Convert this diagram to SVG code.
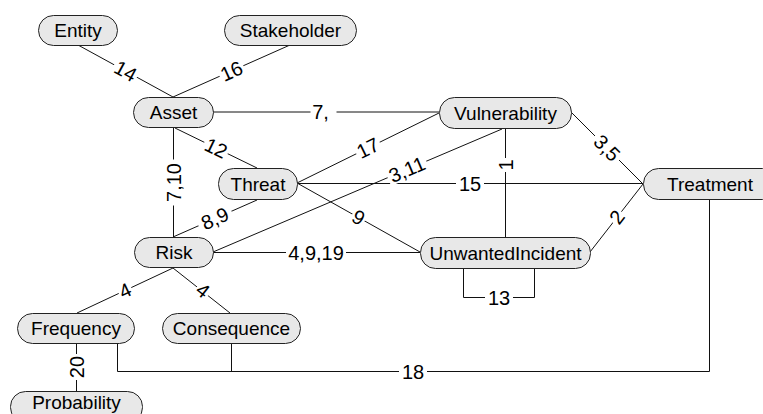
<svg xmlns="http://www.w3.org/2000/svg" width="763" height="414" viewBox="0 0 763 414">
<style>
.n rect{fill:#e8e8e8;stroke:#222;stroke-width:1}
.n text{font-family:"Liberation Sans",Arial,sans-serif;font-size:19px;fill:#000;text-anchor:middle}
.c line,.c polyline{stroke:#111;stroke-width:1;fill:none}
.l rect{fill:#fff;stroke:none}
.l text{font-family:"Liberation Sans",Arial,sans-serif;font-size:20px;fill:#000;text-anchor:middle}
</style>
<rect width="763" height="414" fill="#fff"/>
<g class="c" id="connectors">
<line x1="78" y1="45" x2="173" y2="97"/>
<line x1="290" y1="45" x2="173" y2="97"/>
<line x1="213" y1="112" x2="439" y2="112"/>
<line x1="571" y1="112" x2="643" y2="184"/>
<line x1="505.5" y1="129" x2="505.5" y2="237"/>
<line x1="502" y1="129" x2="213" y2="252"/>
<line x1="297" y1="183" x2="439" y2="113"/>
<line x1="297" y1="183.5" x2="643" y2="183.5"/>
<line x1="175" y1="128" x2="257" y2="168"/>
<line x1="173.5" y1="128" x2="173.5" y2="237"/>
<line x1="257" y1="200" x2="173" y2="237"/>
<line x1="297" y1="183" x2="420" y2="252"/>
<line x1="213" y1="252.5" x2="420" y2="252.5"/>
<polyline points="463.5,269 463.5,297.5 534.5,297.5 534.5,269"/>
<line x1="590" y1="252" x2="643" y2="184"/>
<line x1="173" y1="268" x2="77" y2="313"/>
<line x1="173" y1="268" x2="230" y2="313"/>
<line x1="76.5" y1="343" x2="76.5" y2="391"/>
<polyline points="117.5,343 117.5,371.5 709.5,371.5 709.5,199"/>
<line x1="231.5" y1="343" x2="231.5" y2="371.5"/>
</g>
<g class="l" id="labels">
<g transform="translate(125.5,71) rotate(28.7)"><rect x="-13" y="-9" width="26" height="18"/><text y="7">14</text></g>
<g transform="translate(231.5,71) rotate(-24)"><rect x="-13" y="-9" width="26" height="18"/><text y="7">16</text></g>
<g transform="translate(323.5,112)"><rect x="-13" y="-9" width="26" height="18"/><text x="-3" y="7">7,</text></g>
<g transform="translate(607,148) rotate(45)"><rect x="-17" y="-9" width="34" height="18"/><text y="7">3,5</text></g>
<g transform="translate(505.5,165) rotate(-90)"><rect x="-7" y="-9" width="14" height="18"/><text y="7">1</text></g>
<g transform="translate(407,169.5) rotate(-23)"><rect x="-21" y="-9" width="42" height="18"/><text y="7">3,11</text></g>
<g transform="translate(368,148) rotate(-26.2)"><rect x="-13" y="-9" width="26" height="18"/><text y="7">17</text></g>
<g transform="translate(470,183.5)"><rect x="-14" y="-9" width="28" height="18"/><text y="7">15</text></g>
<g transform="translate(216,148) rotate(26)"><rect x="-13" y="-9" width="26" height="18"/><text y="7">12</text></g>
<g transform="translate(173.5,182.5) rotate(-90)"><rect x="-23" y="-9" width="46" height="18"/><text y="7">7,10</text></g>
<g transform="translate(215,218.5) rotate(-23.8)"><rect x="-18" y="-9" width="36" height="18"/><text y="7">8,9</text></g>
<g transform="translate(358.5,217.5) rotate(29.7)"><rect x="-7" y="-9" width="14" height="18"/><text y="7">9</text></g>
<g transform="translate(316,252.5)"><rect x="-30" y="-9" width="60" height="18"/><text y="7">4,9,19</text></g>
<g transform="translate(499,297.5)"><rect x="-14" y="-9" width="28" height="18"/><text y="7">13</text></g>
<g transform="translate(617,217) rotate(-52)"><rect x="-7" y="-9" width="14" height="18"/><text y="7">2</text></g>
<g transform="translate(125,290.5) rotate(-25)"><rect x="-7" y="-9" width="14" height="18"/><text y="7">4</text></g>
<g transform="translate(203,290.5) rotate(38)"><rect x="-7" y="-9" width="14" height="18"/><text y="7">4</text></g>
<g transform="translate(76.5,367) rotate(-90)"><rect x="-13" y="-9" width="26" height="18"/><text y="7">20</text></g>
<g transform="translate(413,371.5)"><rect x="-14" y="-9" width="28" height="18"/><text y="7">18</text></g>
</g>
<g class="n" id="entity"><rect x="38.5" y="15.5" width="79" height="30" rx="15"/><text x="78" y="37">Entity</text></g>
<g class="n" id="stakeholder"><rect x="224.5" y="15.5" width="132" height="30" rx="15"/><text x="290.5" y="37">Stakeholder</text></g>
<g class="n" id="asset"><rect x="133.5" y="97.5" width="80" height="30" rx="15"/><text x="173.5" y="119">Asset</text></g>
<g class="n" id="vulnerability"><rect x="439.5" y="97.5" width="132" height="31" rx="15"/><text x="505.5" y="119.5">Vulnerability</text></g>
<g class="n" id="treatment"><rect x="643.5" y="168.5" width="134" height="31" rx="15"/><text x="710" y="190.5">Treatment</text></g>
<g class="n" id="threat"><rect x="218.5" y="168.5" width="79" height="31" rx="15"/><text x="258" y="190.5">Threat</text></g>
<g class="n" id="risk"><rect x="134.5" y="237.5" width="79" height="30" rx="15"/><text x="174" y="259">Risk</text></g>
<g class="n" id="unwantedincident"><rect x="420.5" y="237.5" width="170" height="31" rx="15"/><text x="505.5" y="259.5">UnwantedIncident</text></g>
<g class="n" id="frequency"><rect x="17.5" y="313.5" width="117" height="30" rx="15"/><text x="76" y="335">Frequency</text></g>
<g class="n" id="consequence"><rect x="162.5" y="313.5" width="138" height="30" rx="15"/><text x="231.5" y="335">Consequence</text></g>
<g class="n" id="probability"><rect x="10.5" y="391.5" width="132" height="31" rx="15"/><text x="76.5" y="409">Probability</text></g>
</svg>
